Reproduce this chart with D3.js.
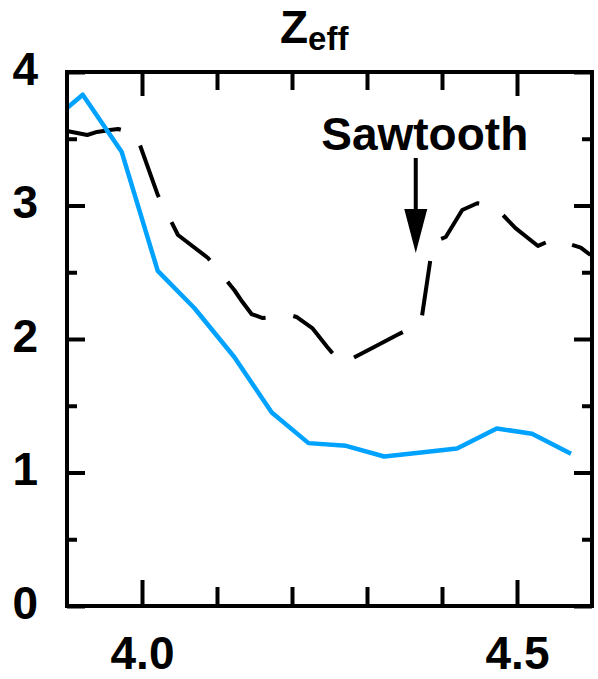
<!DOCTYPE html>
<html>
<head>
<meta charset="utf-8">
<script src="https://cdn.jsdelivr.net/npm/d3@7"></script>
<style>
  body { margin: 0; background: #fff; }
  text { font-family: "Liberation Sans", Arial, Helvetica, sans-serif; font-weight: bold; }
</style>
</head>
<body>
<svg id="chart" width="598" height="679"></svg>
<script>
// blue (solid) Zeff profile
const blueX = [3.900, 3.921, 3.973, 4.021, 4.070, 4.123, 4.173, 4.222, 4.272, 4.323, 4.372, 4.420, 4.473, 4.520, 4.572];
const blueY = [3.73, 3.83, 3.40, 2.51, 2.23, 1.865, 1.45, 1.22, 1.20, 1.12, 1.15, 1.18, 1.33, 1.29, 1.14];

// black (dashed) Zeff profile
const blackX = [3.900, 3.927, 3.940, 3.957, 3.968, 3.992, 4.021, 4.048, 4.088, 4.123, 4.134, 4.146, 4.161,
                4.197, 4.206, 4.227, 4.247, 4.266, 4.307, 4.340, 4.372, 4.388, 4.405, 4.427, 4.447,
                4.470, 4.498, 4.528, 4.549, 4.585, 4.598];
const blackY = [3.558, 3.528, 3.551, 3.566, 3.573, 3.536, 3.079, 2.779, 2.607, 2.367, 2.277, 2.187, 2.157,
                2.180, 2.165, 2.082, 1.940, 1.813, 1.933, 2.030, 2.120, 2.727, 2.764, 2.966, 3.017,
                2.994, 2.831, 2.697, 2.749, 2.685, 2.629];

const xMajor = [4.0, 4.5];
const xMinor = [4.1, 4.2, 4.3, 4.4];
const yMajor = [0, 1, 2, 3, 4];
const yMinor = [0.5, 1.5, 2.5, 3.5];

// annotation: arrow top / tip and label anchor
const arrowX = 4.365, arrowTop = 3.356, arrowTip = 2.644;
const labelX = 4.377, labelY = 3.416;

const margin = {top: 72, right: 6, bottom: 73, left: 67},
      width = 598 - margin.left - margin.right,
      height = 679 - margin.top - margin.bottom;

const svg = d3.select("#chart");
const g = svg.append("g")
    .attr("transform", "translate(" + margin.left + "," + margin.top + ")");

const x = d3.scaleLinear().domain([3.9, 4.6]).range([0, width]);
const y = d3.scaleLinear().domain([0, 4]).range([height, 0]);

// curves
const blueData = blueX.map((d, i) => [d, blueY[i]]);
const blackData = blackX.map((d, i) => [d, blackY[i]]);
const line = d3.line().x(d => x(d[0])).y(d => y(d[1]));

g.append("path")
    .datum(blackData)
    .attr("d", line)
    .attr("fill", "none")
    .attr("stroke", "#000")
    .attr("stroke-width", 4)
    .attr("stroke-linejoin", "round")
    .attr("stroke-dasharray", "55,28");

g.append("path")
    .datum(blueData)
    .attr("d", line)
    .attr("fill", "none")
    .attr("stroke", "#00a2ff")
    .attr("stroke-width", 4.5)
    .attr("stroke-linejoin", "round");

// axes (ticks point inward on all four sides)
function styleAxis(sel) {
    sel.select(".domain").remove();
    sel.selectAll(".tick line").attr("stroke", "#000").attr("stroke-width", 4);
    sel.selectAll(".tick text").attr("fill", "#000").style("font-size", "46px")
        .style("font-family", '"Liberation Sans", Arial, sans-serif').style("font-weight", "bold");
}

g.append("g").attr("transform", "translate(0," + height + ")")
    .call(d3.axisBottom(x).tickValues(xMajor).tickSize(-26).tickPadding(30).tickFormat(d3.format(".1f")))
    .call(styleAxis);
g.append("g").attr("transform", "translate(0," + height + ")")
    .call(d3.axisBottom(x).tickValues(xMinor).tickSize(-19).tickFormat(""))
    .call(styleAxis);
g.append("g")
    .call(d3.axisTop(x).tickValues(xMajor).tickSize(-24).tickFormat(""))
    .call(styleAxis);
g.append("g")
    .call(d3.axisTop(x).tickValues(xMinor).tickSize(-18).tickFormat(""))
    .call(styleAxis);

const yl = g.append("g")
    .call(d3.axisLeft(y).tickValues(yMajor).tickSize(-18).tickPadding(29).tickFormat(d3.format("d")))
    .call(styleAxis);
yl.selectAll(".tick text").attr("dy", "0.27em");
g.append("g")
    .call(d3.axisLeft(y).tickValues(yMinor).tickSize(-10).tickFormat(""))
    .call(styleAxis);
g.append("g").attr("transform", "translate(" + width + ",0)")
    .call(d3.axisRight(y).tickValues(yMajor).tickSize(-18).tickFormat(""))
    .call(styleAxis);
g.append("g").attr("transform", "translate(" + width + ",0)")
    .call(d3.axisRight(y).tickValues(yMinor).tickSize(-10).tickFormat(""))
    .call(styleAxis);

// frame
g.append("rect")
    .attr("x", 0).attr("y", 0)
    .attr("width", width).attr("height", height)
    .attr("fill", "none")
    .attr("stroke", "#000")
    .attr("stroke-width", 4);

// sawtooth annotation
const ax = x(arrowX), tipY = y(arrowTip);
g.append("line")
    .attr("x1", ax).attr("x2", ax)
    .attr("y1", y(arrowTop)).attr("y2", tipY - 40)
    .attr("stroke", "#000").attr("stroke-width", 4);
g.append("path")
    .attr("d", "M" + (ax - 11.5) + "," + (tipY - 44) + "L" + (ax + 11.5) + "," + (tipY - 44) + "L" + ax + "," + tipY + "Z")
    .attr("fill", "#000");
g.append("text")
    .attr("x", x(labelX)).attr("y", y(labelY))
    .attr("text-anchor", "middle")
    .style("font-size", "46px")
    .text("Sawtooth");

// title Z_eff
const title = svg.append("text")
    .attr("x", 280).attr("y", 43)
    .style("font-size", "46px");
title.append("tspan").text("Z");
title.append("tspan").attr("dy", 7).style("font-size", "33px").text("eff");
</script>
</body>
</html>
